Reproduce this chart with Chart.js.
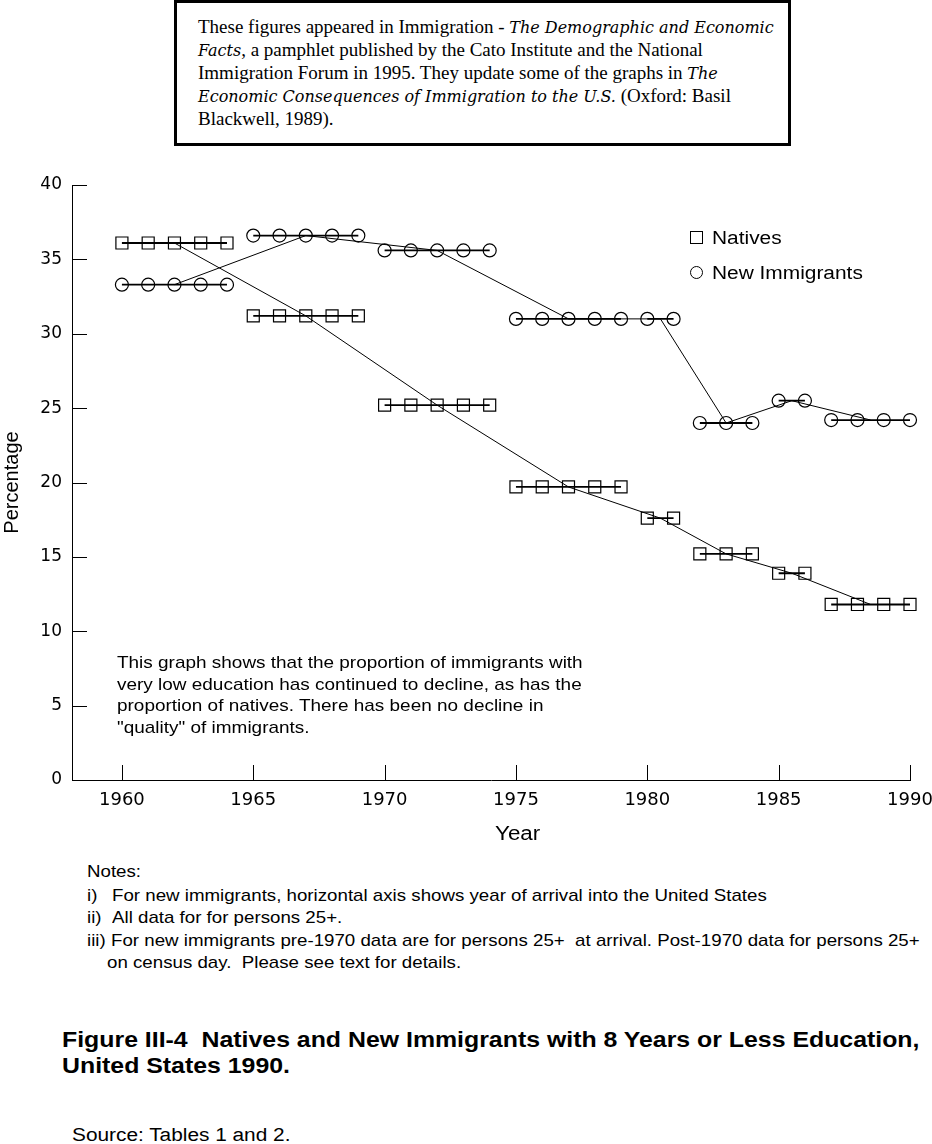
<!DOCTYPE html>
<html>
<head>
<meta charset="utf-8">
<script src="https://cdn.jsdelivr.net/npm/chart.js@4.4.1/dist/chart.umd.min.js"></script>
<style>
  body { margin: 0; width: 932px; height: 1144px; background: #fff; position: relative; overflow: hidden;
         font-family: "Liberation Sans", Arial, Helvetica, sans-serif; color: #000; }
  .abs { position: absolute; white-space: nowrap; transform-origin: 0 50%; }
  #intro { left: 174px; top: 0; width: 617px; height: 146px; box-sizing: border-box; border: 3px solid #000;
           padding: 13px 0 0 21px; font-family: "Liberation Serif", "Times New Roman", serif; font-size: 19px; line-height: 22px; }
  #intro i { font-family: "DejaVu Serif", serif; font-style: italic; font-size: 16px; }
  #chart { position: absolute; left: 0; top: 170px; }
  .legend { font-size: 18px; line-height: 22px; transform: scaleX(1.16); }
  .mk { position: absolute; width: 13px; height: 13px; box-sizing: border-box; border: 1px solid #000; }
  .note { font-size: 17px; line-height: 22px; transform: scaleX(1.10); }
  .annot { font-size: 17px; line-height: 21.5px; transform: scaleX(1.115); }
  .title { font-size: 22px; font-weight: bold; line-height: 26px; transform: scaleX(1.13); }
</style>
</head>
<body>
<div id="intro" class="abs">
  These figures appeared in Immigration - <i>The Demographic and Economic</i><br>
  <i>Facts</i>, a pamphlet published by the Cato Institute and the National<br>
  Immigration Forum in 1995. They update some of the graphs in <i>The</i><br>
  <i>Economic Consequences of Immigration to the U.S.</i> (Oxford: Basil<br>
  Blackwell, 1989).
</div>

<canvas id="chart" width="932" height="690"></canvas>

<div class="mk" style="left:690px; top:231px;"></div>
<div class="abs legend" style="left:712px; top:227px;">Natives</div>
<div class="mk" style="left:690px; top:266px; border-radius:50%;"></div>
<div class="abs legend" style="left:712px; top:262px;">New Immigrants</div>

<div class="abs annot" style="left:117px; top:652px;">
  This graph shows that the proportion of immigrants with<br>
  very low education has continued to decline, as has the<br>
  proportion of natives. There has been no decline in<br>
  "quality" of immigrants.
</div>

<div class="abs note" style="left:495px; top:821px; font-size:20px; line-height:24px; transform:scaleX(1.12);">Year</div>

<div class="abs note" style="left:87px; top:861px;">Notes:</div>
<div class="abs note" style="left:87px; top:885px;">i)</div>
<div class="abs note" style="left:112px; top:885px;">For new immigrants, horizontal axis shows year of arrival into the United States</div>
<div class="abs note" style="left:87px; top:907px;">ii)</div>
<div class="abs note" style="left:112px; top:907px;">All data for for persons 25+.</div>
<div class="abs note" style="left:87px; top:930px;">iii)</div>
<div class="abs note" style="left:111px; top:930px;">For new immigrants pre-1970 data are for persons 25+&nbsp; at arrival. Post-1970 data for persons 25+</div>
<div class="abs note" style="left:107px; top:952px;">on census day.&nbsp; Please see text for details.</div>

<div class="abs title" style="left:62px; top:1027px;">Figure III-4&nbsp; Natives and New Immigrants with 8 Years or Less Education,<br>United States 1990.</div>

<div class="abs note" style="left:72px; top:1124px; font-size:18px; transform:scaleX(1.157);">Source: Tables 1 and 2.</div>

<script>
// Groups of years sharing one value (start and end year of each group)
const groupStart = [1960, 1965, 1970, 1975, 1980, 1982, 1985, 1987];
const groupEnd = [1964, 1969, 1974, 1979, 1981, 1984, 1986, 1990];

// Percentage with 8 years or less education, one value per group
const nativesPct = [36.1, 31.2, 25.2, 19.7, 17.6, 15.2, 13.9, 11.8];
const immigrantsPct = [33.3, 36.6, 35.6, 31.0, 31.0, 24.0, 25.5, 24.2];

const xTicks = [1960, 1965, 1970, 1975, 1980, 1985, 1990];
const yTicks = [0, 5, 10, 15, 20, 25, 30, 35, 40];

const WIDE = '"DejaVu Sans", Verdana, sans-serif';
const FONT = '"Liberation Sans", Arial, Helvetica, sans-serif';

// one point per year, with a gap between groups so the short segments stay apart
function yearlyPoints(values) {
  const pts = [];
  values.forEach((v, i) => {
    if (i > 0) pts.push({ x: groupStart[i] - 0.5, y: null });
    for (let yr = groupStart[i]; yr <= groupEnd[i]; yr++) pts.push({ x: yr, y: v });
  });
  return pts;
}

// trend line through the middle year of each group
function midPoints(values) {
  return values.map((v, i) => ({ x: (groupStart[i] + groupEnd[i]) / 2, y: v }));
}

const inwardTicks = {
  id: 'inwardTicks',
  afterDatasetsDraw(chart) {
    const { ctx, chartArea, scales } = chart;
    ctx.save();
    ctx.strokeStyle = '#000';
    ctx.lineWidth = 1;
    scales.y.ticks.forEach((t) => {
      const y = Math.round(scales.y.getPixelForValue(t.value)) + 0.5;
      ctx.beginPath();
      ctx.moveTo(chartArea.left, y);
      ctx.lineTo(chartArea.left + 15, y);
      ctx.stroke();
    });
    scales.x.ticks.forEach((t) => {
      const x = Math.round(scales.x.getPixelForValue(t.value)) + 0.5;
      ctx.beginPath();
      ctx.moveTo(x, chartArea.bottom);
      ctx.lineTo(x, chartArea.bottom - 15);
      ctx.stroke();
    });
    ctx.restore();
  },
};

const marker = (style, radius) => ({
  pointStyle: style,
  pointRadius: radius,
  pointBorderWidth: 1.2,
  pointBorderColor: '#000',
  pointBackgroundColor: 'rgba(0,0,0,0)',
});

new Chart(document.getElementById('chart'), {
  type: 'line',
  data: {
    datasets: [
      { label: 'Natives', data: yearlyPoints(nativesPct), borderColor: '#000', borderWidth: 1.8, spanGaps: false, clip: false, ...marker('rect', 8.5) },
      { label: 'New Immigrants', data: yearlyPoints(immigrantsPct), borderColor: '#000', borderWidth: 1.8, spanGaps: false, clip: false, ...marker('circle', 6.5) },
      { label: 'Natives trend', data: midPoints(nativesPct), borderColor: '#000', borderWidth: 1, pointRadius: 0 },
      { label: 'Immigrants trend', data: midPoints(immigrantsPct), borderColor: '#000', borderWidth: 1, pointRadius: 0 },
    ],
  },
  options: {
    responsive: false,
    animation: false,
    layout: { padding: { top: 15, right: 22, left: 0, bottom: 0 } },
    plugins: { legend: { display: false }, tooltip: { enabled: false } },
    scales: {
      x: {
        type: 'linear',
        min: 1958.1,
        max: 1990,
        afterBuildTicks: (s) => { s.ticks = xTicks.map((v) => ({ value: v })); },
        afterFit: (s) => { s.height = 80; s.paddingLeft = 0; s.paddingRight = 0; },
        grid: { display: false, drawTicks: false },
        border: { display: true, color: '#000', width: 1 },
        ticks: { color: '#000', padding: 10, maxRotation: 0, font: { family: WIDE, size: 18 }, callback: (v) => String(v) },
        title: { display: false, text: 'Year' },
      },
      y: {
        min: 0,
        max: 40,
        afterBuildTicks: (s) => { s.ticks = yTicks.map((v) => ({ value: v })); },
        afterFit: (s) => { s.width = 72; s.paddingTop = 0; s.paddingBottom = 0; },
        grid: { display: false, drawTicks: false },
        border: { display: true, color: '#000', width: 1 },
        ticks: { color: '#000', padding: 10, font: { family: WIDE, size: 17 } },
        title: { display: true, text: 'Percentage', color: '#000', padding: 0, font: { family: FONT, size: 20 } },
      },
    },
  },
  plugins: [inwardTicks],
});
</script>
</body>
</html>
